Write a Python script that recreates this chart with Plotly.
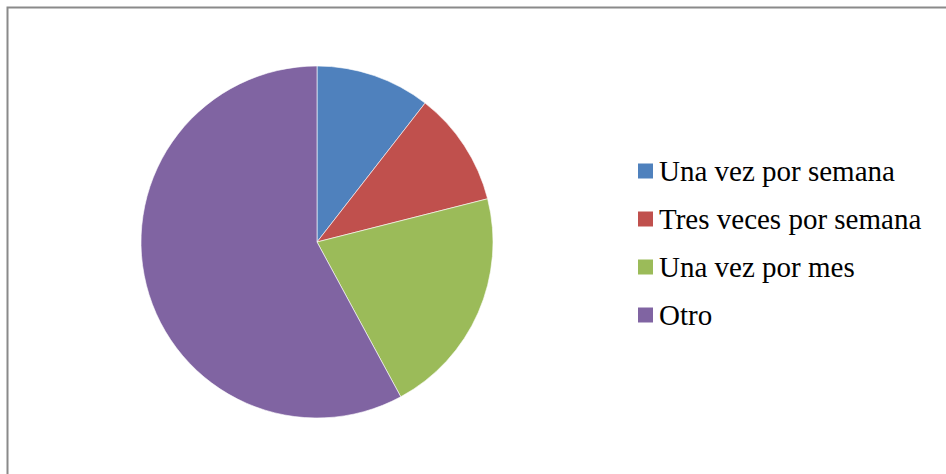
import plotly.graph_objects as go

# Survey answers: how often
labels = ["Una vez por semana", "Tres veces por semana", "Una vez por mes", "Otro"]
counts = [2, 2, 4, 11]
colors = ["#4F81BD", "#C0504D", "#9BBB59", "#8064A2"]

W, H = 946, 474

fig = go.Figure(
    go.Pie(
        labels=labels,
        values=counts,
        sort=False,
        direction="clockwise",
        rotation=0,
        marker=dict(colors=colors, line=dict(color="rgba(255,255,255,0.6)", width=1)),
        textinfo="none",
        hoverinfo="label+value+percent",
        showlegend=False,
        domain=dict(x=[141 / W, 493 / W], y=[1 - 418 / H, 1 - 66 / H]),
    )
)

# Hand-built legend: colour squares with labels
legend_x = 638
first_y = 171
step = 48
sq = 15
shapes = [
    dict(type="rect", xref="paper", yref="paper",
         x0=7.5 / W, x1=1.1, y0=-0.1, y1=1 - 7.5 / H,
         line=dict(color="#8a8a8a", width=2), fillcolor="rgba(0,0,0,0)")
]
annotations = []
for i, (lab, col) in enumerate(zip(labels, colors)):
    cy = first_y + i * step
    shapes.append(dict(type="rect", xref="paper", yref="paper",
                       x0=legend_x / W, x1=(legend_x + sq) / W,
                       y0=1 - (cy + sq / 2) / H, y1=1 - (cy - sq / 2) / H,
                       line=dict(width=0), fillcolor=col))
    annotations.append(dict(text=lab, xref="paper", yref="paper",
                            x=(legend_x + sq + 4) / W, y=1 - cy / H,
                            xanchor="left", yanchor="middle", showarrow=False,
                            font=dict(family="Liberation Serif, Times New Roman, serif",
                                      size=29, color="#000000")))

fig.update_layout(
    width=W, height=H,
    margin=dict(l=0, r=0, t=0, b=0),
    paper_bgcolor="white",
    plot_bgcolor="white",
    shapes=shapes,
    annotations=annotations,
)

fig.write_html("out.html")
